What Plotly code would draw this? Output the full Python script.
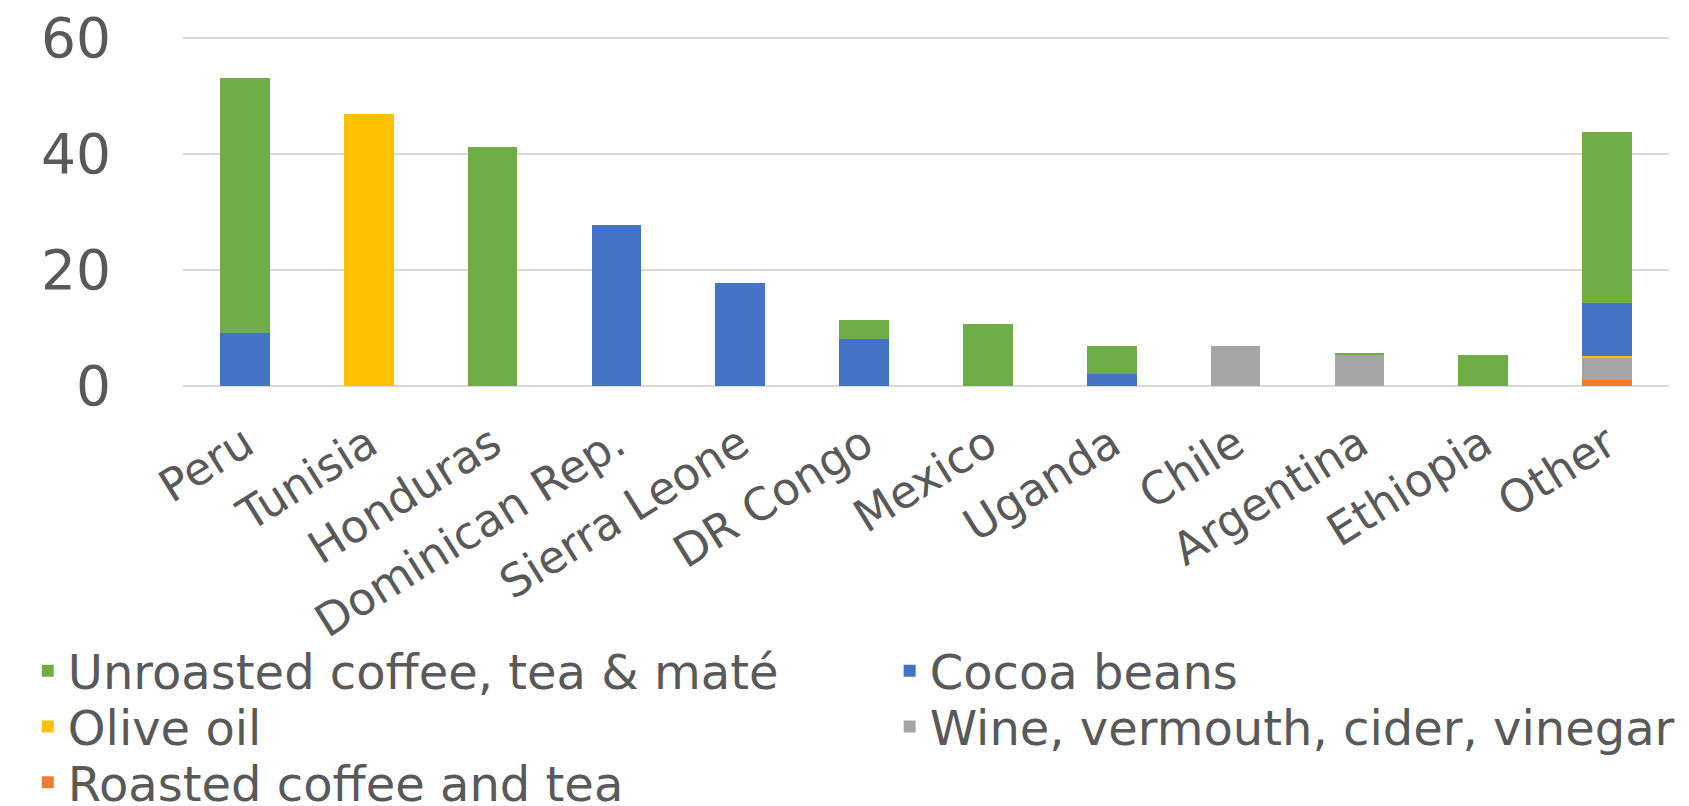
import plotly.graph_objects as go

countries = ["Peru", "Tunisia", "Honduras", "Dominican Rep.", "Sierra Leone", "DR Congo",
             "Mexico", "Uganda", "Chile", "Argentina", "Ethiopia", "Other"]

roasted_coffee = [0, 0, 0, 0, 0, 0, 0, 0, 0, 0, 0, 1.1]
wine = [0, 0, 0, 0, 0, 0, 0, 0, 6.9, 5.5, 0, 3.8]
olive_oil = [0, 46.9, 0, 0, 0, 0, 0, 0, 0, 0, 0, 0.3]
cocoa = [9.1, 0, 0, 27.8, 17.8, 8.1, 0, 2.0, 0, 0, 0, 9.1]
unroasted_coffee = [44.0, 0, 41.1, 0, 0, 3.2, 10.7, 4.9, 0, 0.15, 5.4, 29.4]

y_ticks = [0, 20, 40, 60]

TEXT = "#595959"
FONT = "DejaVu Sans"

# (name, values, colour, legend id, legend x, legend y) -- legend laid out as 2 columns x 3 rows
series = [
    ("Roasted coffee and tea", roasted_coffee, "#ED7D31", "legend5", 0.0117, 0.0861),
    ("Wine, vermouth, cider, vinegar", wine, "#A5A5A5", "legend4", 0.522, 0.1553),
    ("Olive oil", olive_oil, "#FFC000", "legend3", 0.0117, 0.1553),
    ("Cocoa beans", cocoa, "#4472C4", "legend2", 0.522, 0.2246),
    ("Unroasted coffee, tea & maté", unroasted_coffee, "#70AD47", "legend", 0.0117, 0.2246),
]

fig = go.Figure()
legend_layouts = {}
for name, vals, color, lg, lx, ly in series:
    fig.add_trace(go.Bar(
        x=countries, y=vals, name=name, marker_color=color,
        marker_line_width=0, legend=lg, showlegend=True,
    ))
    legend_layouts[lg] = dict(
        orientation="h",
        xref="container", yref="container",
        x=lx, y=ly, xanchor="left", yanchor="top",
        font=dict(size=48, color=TEXT, family=FONT),
        itemwidth=30, bgcolor="rgba(0,0,0,0)",
    )

fig.update_layout(
    barmode="stack",
    bargap=0.6,
    width=1689, height=806,
    margin=dict(l=175, r=28, t=28, b=428, autoexpand=False),
    plot_bgcolor="white", paper_bgcolor="white",
    font=dict(family=FONT, color=TEXT),
    showlegend=True,
    **legend_layouts,
)
fig.update_yaxes(
    range=[0, 60.3], tickvals=y_ticks, showgrid=True, gridcolor="#D9D9D9", gridwidth=2,
    zeroline=True, zerolinecolor="#D9D9D9", zerolinewidth=2,
    tickfont=dict(size=55, color=TEXT, family=FONT),
    ticks="", ticklabelstandoff=71, showline=False, ticklabeloverflow="allow",
)
fig.update_xaxes(
    tickangle=-32, tickfont=dict(size=45, color=TEXT, family=FONT),
    showline=False, ticks="", showgrid=False, ticklabelstandoff=22,
)

fig.write_html("out.html")
